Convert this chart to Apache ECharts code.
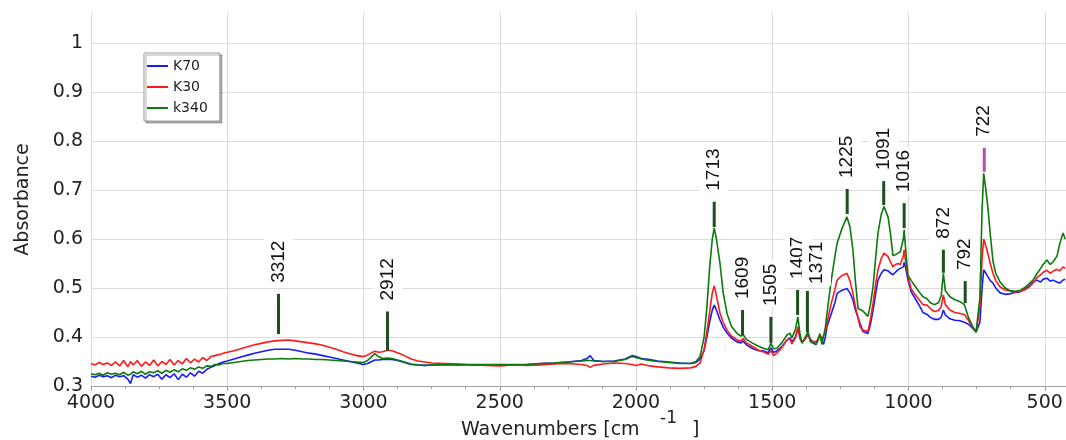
<!DOCTYPE html>
<html><head><meta charset="utf-8">
<script src="https://cdn.jsdelivr.net/npm/echarts@6/dist/echarts.min.js"></script>
<style>html,body{margin:0;padding:0;background:#fff}#c{width:1066px;height:440px}</style>
</head><body><div id="c"></div>
<script>
// ---- data ----
const wavenumbers = [4000,3985,3970,3955,3940,3925,3910,3895,3880,3865,3855,3845,3830,3815,3800,3785,3770,3755,3740,3725,3710,3695,3680,3665,3650,3635,3620,3605,3590,3575,3560,3545,3530,3515,3500,3475,3450,3425,3400,3375,3350,3325,3300,3275,3250,3225,3200,3175,3150,3125,3100,3075,3050,3025,3000,2985,2970,2958,2945,2930,2912,2895,2875,2850,2825,2800,2775,2750,2700,2650,2600,2550,2500,2450,2400,2350,2300,2250,2200,2180,2168,2155,2120,2080,2040,2015,2000,1980,1950,1920,1880,1840,1800,1780,1765,1750,1740,1730,1720,1713,1705,1692,1680,1666,1650,1629,1615,1607,1595,1571,1550,1534,1515,1505,1495,1483,1465,1446,1435,1428,1415,1406,1398,1391,1380,1369,1360,1350,1340,1333,1325,1318,1312,1305,1299,1285,1270,1262,1245,1226,1215,1204,1195,1185,1178,1167,1160,1149,1140,1130,1120,1112,1100,1090,1075,1066,1057,1048,1039,1030,1024,1019,1016,1012,1002,990,975,958,947,932,920,905,890,880,872,865,848,830,811,795,789,780,765,752,745,738,730,724,716,709,700,690,680,664,645,628,610,591,570,555,543,530,515,506,492,480,470,455,445,433,425];
const k70 = [0.320,0.318,0.322,0.319,0.321,0.317,0.322,0.319,0.321,0.314,0.305,0.323,0.318,0.322,0.316,0.323,0.319,0.324,0.314,0.323,0.317,0.325,0.313,0.324,0.318,0.327,0.320,0.330,0.326,0.334,0.338,0.342,0.346,0.349,0.351,0.355,0.359,0.363,0.367,0.370,0.373,0.375,0.375,0.375,0.373,0.370,0.367,0.365,0.362,0.359,0.356,0.353,0.350,0.347,0.344,0.346,0.350,0.353,0.353,0.354,0.354,0.354,0.352,0.348,0.344,0.343,0.342,0.343,0.344,0.343,0.344,0.343,0.344,0.343,0.344,0.346,0.347,0.349,0.352,0.356,0.362,0.352,0.350,0.351,0.355,0.362,0.360,0.356,0.354,0.351,0.349,0.347,0.346,0.348,0.355,0.372,0.400,0.430,0.455,0.465,0.455,0.435,0.420,0.408,0.398,0.390,0.388,0.392,0.384,0.376,0.372,0.372,0.368,0.378,0.368,0.372,0.380,0.394,0.398,0.390,0.400,0.417,0.398,0.390,0.395,0.407,0.395,0.390,0.384,0.386,0.404,0.392,0.385,0.400,0.421,0.445,0.470,0.489,0.495,0.499,0.490,0.476,0.455,0.440,0.428,0.411,0.412,0.407,0.425,0.455,0.490,0.516,0.530,0.537,0.535,0.530,0.527,0.532,0.537,0.540,0.538,0.543,0.552,0.545,0.516,0.492,0.478,0.462,0.450,0.446,0.440,0.436,0.436,0.440,0.455,0.445,0.437,0.434,0.433,0.430,0.431,0.426,0.418,0.410,0.406,0.430,0.500,0.537,0.530,0.523,0.515,0.510,0.500,0.490,0.487,0.488,0.491,0.492,0.499,0.505,0.512,0.516,0.512,0.518,0.520,0.514,0.516,0.512,0.510,0.516,0.518];
const k30 = [0.346,0.343,0.348,0.344,0.347,0.342,0.349,0.341,0.352,0.339,0.350,0.343,0.352,0.340,0.349,0.342,0.353,0.341,0.350,0.344,0.354,0.343,0.352,0.345,0.356,0.347,0.355,0.349,0.358,0.352,0.360,0.362,0.364,0.367,0.369,0.372,0.376,0.380,0.384,0.387,0.390,0.392,0.393,0.394,0.392,0.390,0.388,0.386,0.383,0.379,0.375,0.370,0.366,0.362,0.360,0.363,0.368,0.371,0.369,0.370,0.373,0.372,0.368,0.362,0.355,0.351,0.349,0.347,0.346,0.345,0.343,0.342,0.341,0.343,0.342,0.343,0.345,0.346,0.344,0.342,0.338,0.342,0.345,0.347,0.346,0.344,0.342,0.345,0.341,0.339,0.337,0.336,0.337,0.340,0.347,0.375,0.410,0.450,0.490,0.504,0.485,0.449,0.430,0.414,0.402,0.394,0.392,0.397,0.388,0.380,0.373,0.370,0.365,0.372,0.362,0.367,0.378,0.394,0.396,0.386,0.398,0.421,0.396,0.389,0.395,0.404,0.393,0.391,0.390,0.395,0.405,0.395,0.392,0.410,0.428,0.465,0.497,0.516,0.525,0.530,0.515,0.489,0.462,0.438,0.421,0.414,0.416,0.411,0.435,0.469,0.510,0.537,0.560,0.571,0.564,0.553,0.543,0.548,0.550,0.548,0.550,0.565,0.578,0.560,0.523,0.498,0.486,0.474,0.466,0.465,0.458,0.452,0.454,0.462,0.486,0.466,0.455,0.450,0.448,0.446,0.447,0.434,0.420,0.410,0.406,0.460,0.560,0.600,0.585,0.571,0.550,0.530,0.515,0.502,0.496,0.494,0.492,0.493,0.497,0.503,0.510,0.520,0.527,0.532,0.536,0.530,0.534,0.538,0.535,0.543,0.540];
const k340 = [0.325,0.323,0.326,0.322,0.327,0.324,0.326,0.323,0.328,0.322,0.324,0.329,0.325,0.330,0.324,0.329,0.327,0.331,0.326,0.332,0.328,0.333,0.329,0.335,0.332,0.337,0.334,0.339,0.336,0.341,0.340,0.344,0.343,0.346,0.346,0.348,0.350,0.352,0.353,0.354,0.355,0.355,0.356,0.355,0.356,0.355,0.355,0.354,0.354,0.353,0.352,0.351,0.350,0.349,0.348,0.352,0.360,0.366,0.360,0.356,0.357,0.356,0.353,0.349,0.345,0.343,0.342,0.343,0.343,0.344,0.343,0.344,0.343,0.344,0.344,0.346,0.347,0.349,0.351,0.352,0.352,0.351,0.350,0.350,0.354,0.360,0.358,0.355,0.352,0.350,0.348,0.346,0.346,0.350,0.360,0.400,0.460,0.540,0.600,0.622,0.600,0.551,0.490,0.448,0.422,0.407,0.402,0.405,0.395,0.387,0.381,0.377,0.374,0.387,0.376,0.377,0.388,0.404,0.408,0.398,0.415,0.441,0.405,0.387,0.398,0.411,0.390,0.387,0.386,0.392,0.407,0.385,0.381,0.420,0.448,0.510,0.565,0.591,0.620,0.645,0.625,0.578,0.515,0.458,0.455,0.453,0.450,0.442,0.465,0.503,0.565,0.612,0.650,0.666,0.645,0.610,0.566,0.568,0.571,0.574,0.578,0.600,0.618,0.590,0.526,0.515,0.503,0.490,0.482,0.478,0.470,0.466,0.470,0.484,0.530,0.495,0.482,0.476,0.472,0.466,0.470,0.440,0.422,0.410,0.406,0.480,0.660,0.734,0.700,0.666,0.610,0.555,0.530,0.512,0.500,0.495,0.493,0.495,0.502,0.510,0.516,0.528,0.540,0.548,0.557,0.548,0.553,0.565,0.590,0.612,0.600];

const seriesNames = ['K70', 'K30', 'k340'];
const peakLabels = ['3312','2912','1713','1609','1505','1407','1371','1225','1091','1016','872','792','722'];
const peakWn     = [3312, 2912, 1713, 1609, 1505, 1407, 1371, 1225, 1091, 1016, 872, 792, 722];
const peakLow    = [0.406, 0.372, 0.624, 0.404, 0.388, 0.445, 0.410, 0.651, 0.669, 0.622, 0.531, 0.469, 0.737];
const peakHigh   = [0.488, 0.452, 0.676, 0.455, 0.441, 0.496, 0.494, 0.702, 0.718, 0.673, 0.578, 0.514, 0.786];

const xTickValues = [4000, 3500, 3000, 2500, 2000, 1500, 1000, 500];
const yTickValues = [0.3, 0.4, 0.5, 0.6, 0.7, 0.8, 0.9, 1];

// ---- chart ----
const chart = echarts.init(document.getElementById('c'), null, {renderer: 'canvas'});
const TXT = '#222';
const AX = '#a0a0a0';
const toPairs = ys => wavenumbers.map((w, i) => [w, ys[i]]);
const peakData = peakWn.map((w, i) => [w, peakLow[i], peakHigh[i], peakLabels[i]]);
const labelShift = {'1371': [9, 4]};

function renderPeak(params, api) {
  const w = api.value(0);
  const p0 = api.coord([w, api.value(1)]);
  const p1 = api.coord([w, api.value(2)]);
  const txt = peakLabels[params.dataIndex];
  const sh = labelShift[txt] || [0, 0];
  const barColor = txt === '722' ? '#b04fb0' : '#1c4f1c';
  return {
    type: 'group',
    children: [
      {type: 'line', shape: {x1: p0[0], y1: p0[1], x2: p1[0], y2: p1[1]},
       style: {stroke: barColor, lineWidth: 3}},
      {type: 'text', x: p1[0] + sh[0], y: p1[1] - 9 + sh[1], rotation: Math.PI / 2,
       style: {text: txt, align: 'left', verticalAlign: 'middle',
               font: '19px "Liberation Sans", Arial, sans-serif', fill: '#111',
               backgroundColor: '#fff', padding: [5, 2, 5, 2]}}
    ]
  };
}

const colors = ['#1a1aff', '#ff1a1a', '#0a7a0a'];

chart.setOption({
  animation: false,
  backgroundColor: '#fff',
  grid: {left: 91, right: -115, top: 13, bottom: 54, outerBoundsMode: 'none', containLabel: false},
  legend: {
    orient: 'vertical', left: 144, top: 53,
    data: seriesNames,
    icon: 'rect', itemWidth: 21, itemHeight: 2, itemGap: 5,
    padding: [5, 12, 5, 3],
    backgroundColor: '#fff', borderColor: '#999', borderWidth: 1,
    shadowColor: 'rgba(0,0,0,0.3)', shadowBlur: 0, shadowOffsetX: 2, shadowOffsetY: 2,
    textStyle: {fontFamily: 'DejaVu Sans', fontSize: 14, color: TXT, lineHeight: 16}
  },
  xAxis: {
    type: 'value', inverse: true, min: 0, max: 4000, interval: 500,
    axisLine: {lineStyle: {color: AX}},
    axisTick: {length: 5, lineStyle: {color: AX}},
    minorTick: {show: true, splitNumber: 4, length: 3, lineStyle: {color: AX}},
    splitLine: {show: true, lineStyle: {color: '#dcdcdc'}},
    axisLabel: {fontFamily: 'DejaVu Sans', fontSize: 19, color: TXT, margin: 8,
      formatter: v => xTickValues.indexOf(Math.round(v)) >= 0 && Math.abs(v - Math.round(v)) < 1e-6 ? String(Math.round(v)) : ''}
  },
  yAxis: {
    type: 'value', min: 0.3, max: 1.061, interval: 0.1,
    name: 'Absorbance', nameLocation: 'middle', nameGap: 58,
    nameTextStyle: {fontFamily: 'DejaVu Sans', fontSize: 19, color: TXT},
    axisLine: {show: true, lineStyle: {color: AX}},
    axisTick: {show: true, length: 5, lineStyle: {color: AX}},
    minorTick: {show: true, splitNumber: 5, length: 3, lineStyle: {color: AX}},
    splitLine: {show: true, showMaxLine: false, lineStyle: {color: '#dcdcdc'}},
    axisLabel: {fontFamily: 'DejaVu Sans', fontSize: 19, color: TXT, margin: 8,
      formatter: v => {
        const hit = yTickValues.find(t => Math.abs(t - v) < 1e-6);
        return hit === undefined ? '' : String(hit);
      }}
  },
  graphic: [
    {type: 'text', left: 461, top: 421, style: {text: 'Wavenumbers [cm', font: '19px "DejaVu Sans"', fill: TXT}},
    {type: 'text', left: 660, top: 410, style: {text: '-1', font: '17px "DejaVu Sans"', fill: TXT}},
    {type: 'text', left: 692, top: 421, style: {text: ']', font: '19px "DejaVu Sans"', fill: TXT}}
  ],
  series: [
    {name: seriesNames[0], type: 'line', data: toPairs(k70), showSymbol: false, color: colors[0], lineStyle: {width: 1.6}, z: 2},
    {name: seriesNames[1], type: 'line', data: toPairs(k30), showSymbol: false, color: colors[1], lineStyle: {width: 1.6}, z: 3},
    {name: seriesNames[2], type: 'line', data: toPairs(k340), showSymbol: false, color: colors[2], lineStyle: {width: 1.6}, z: 4},
    {name: 'peaks', type: 'custom', data: peakData, renderItem: renderPeak, z: 5,
     encode: {x: 0, y: [1, 2]}, clip: false}
  ]
});
</script></body></html>
